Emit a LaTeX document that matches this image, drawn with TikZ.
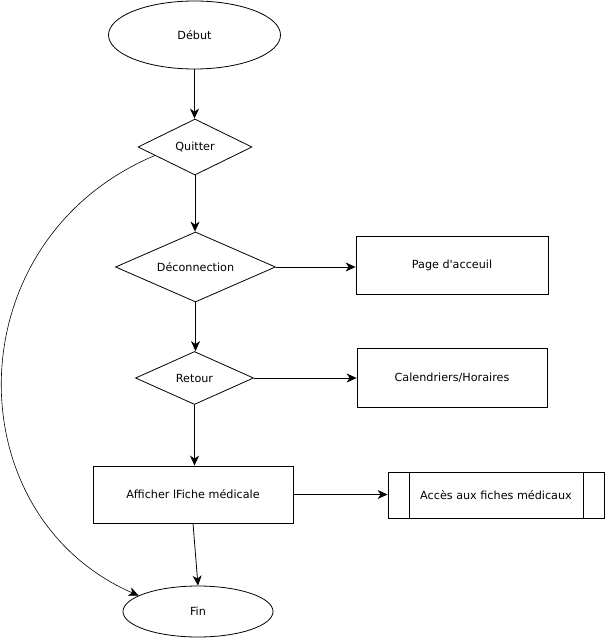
\documentclass[tikz,border=0pt]{standalone}
\usepackage{fontspec}
\setmainfont{DejaVu Sans}
\newcommand{\straightquote}{\XeTeXglyph\XeTeXglyphindex "quotesingle"\relax}
\usetikzlibrary{shapes.geometric,arrows.meta,calc}
\begin{document}
\begin{tikzpicture}[x=1pt,y=-1pt,
  every node/.style={font=\fontsize{11.2}{13}\selectfont, inner sep=0pt},
  term/.style={draw, ellipse, line width=0.8pt},
  decision/.style={draw, diamond, line width=0.8pt},
  procbox/.style={draw, rectangle, line width=0.8pt},
  link/.style={line width=0.8pt, -{Stealth[length=10pt,width=9pt,inset=3pt]}},
  curvelink/.style={line width=0.6pt, -{Stealth[length=10pt,width=9pt,inset=3pt]}}]
\useasboundingbox (0,0) rectangle (605,639);
\node[term, minimum width=172pt, minimum height=68pt] (debut) at (194.5,35) {Début};
\node[decision, minimum width=114pt, minimum height=56pt, aspect=2.04] (quitter) at (195,147) {Quitter};
\node[decision, minimum width=160pt, minimum height=70pt, aspect=2.29] (deconn) at (195.5,267) {Déconnection};
\node[procbox, minimum width=192pt, minimum height=58pt] (page) at (452,265) {Page d\straightquote acceuil};
\node[decision, minimum width=118pt, minimum height=53pt, aspect=2.2] (retour) at (194.5,378) {Retour};
\node[procbox, minimum width=190pt, minimum height=59pt] (cal) at (452,377.5) {Calendriers/Horaires};
\node[procbox, minimum width=200pt, minimum height=57pt] (aff) at (193,494.5) {Afficher lFiche médicale};
\node[procbox, minimum width=216pt, minimum height=46pt] (acces) at (496,495) {Accès aux fiches médicaux};
\draw[line width=0.8pt] ([xshift=22pt]acces.north west) -- ([xshift=22pt]acces.south west);
\draw[line width=0.8pt] ([xshift=-21pt]acces.north east) -- ([xshift=-21pt]acces.south east);
\node[term, minimum width=150pt, minimum height=51pt] (fin) at (198,611.5) {Fin};

\draw[link] (debut.south) -- (debut.south |- quitter.north);
\draw[link] (quitter.south) -- (quitter.south |- deconn.north);
\draw[link] (deconn.east) -- (page.west |- deconn.east);
\draw[link] (deconn.south) -- (deconn.south |- retour.north);
\draw[link] (retour.east) -- (cal.west |- retour.east);
\draw[link] (retour.south) -- (retour.south |- aff.north);
\draw[link] (aff.east) -- (acces.west |- aff.east);
\draw[link] (aff.south) -- (fin.north);
\coordinate (qstart) at ($(quitter.west)!0.3!(quitter.south)$);
\draw[curvelink] (qstart) .. controls (-46,240) and (-46,515) .. (fin.165);
\end{tikzpicture}
\end{document}
